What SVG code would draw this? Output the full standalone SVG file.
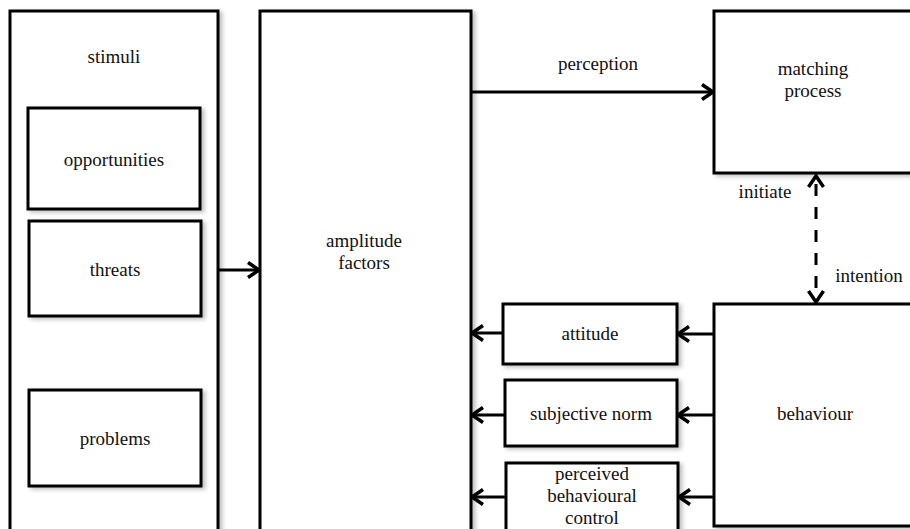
<svg xmlns="http://www.w3.org/2000/svg" width="910" height="529" viewBox="0 0 910 529">
  <style>
    .box { fill: #fff; stroke: #000; stroke-width: 3; filter: url(#sh); }
    .t { font-family: "Liberation Serif", "Times New Roman", serif; font-size: 19px; fill: #111; text-anchor: middle; }
    .c { stroke: #000; stroke-width: 3; fill: none; }
  </style>
  <defs>
    <filter id="sh" x="-10%" y="-10%" width="130%" height="130%">
      <feDropShadow dx="3" dy="2" stdDeviation="2" flood-color="#000" flood-opacity="0.25"/>
    </filter>
    <marker id="arr" markerUnits="userSpaceOnUse" viewBox="-14 -10 16 20" markerWidth="16" markerHeight="20" refX="0" refY="0" orient="auto-start-reverse">
      <path d="M-11,-7.5 L0,0 L-11,7.5" fill="none" stroke="#000" stroke-width="3.5"/>
    </marker>
  </defs>
  <rect width="910" height="529" fill="#fff"/>

  <g id="stimuli">
    <rect class="box" x="10" y="11" width="208" height="530"/>
    <text class="t" x="114" y="63">stimuli</text>
  </g>
  <g id="opportunities">
    <rect class="box" x="28" y="108" width="172" height="101"/>
    <text class="t" x="114" y="166">opportunities</text>
  </g>
  <g id="threats">
    <rect class="box" x="29" y="221" width="172" height="95"/>
    <text class="t" x="115" y="276">threats</text>
  </g>
  <g id="problems">
    <rect class="box" x="29" y="390" width="172" height="96"/>
    <text class="t" x="115" y="445">problems</text>
  </g>
  <g id="amplitude">
    <rect class="box" x="260" y="11" width="211" height="530"/>
    <text class="t" x="364" y="247">amplitude</text>
    <text class="t" x="364" y="269">factors</text>
  </g>
  <g id="matching">
    <rect class="box" x="714" y="11" width="210" height="162"/>
    <text class="t" x="813" y="75">matching</text>
    <text class="t" x="813" y="97">process</text>
  </g>
  <g id="behaviour">
    <rect class="box" x="714" y="304" width="210" height="222"/>
    <text class="t" x="815" y="420">behaviour</text>
  </g>
  <g id="attitude">
    <rect class="box" x="503" y="304" width="174" height="60"/>
    <text class="t" x="590" y="340">attitude</text>
  </g>
  <g id="subjective">
    <rect class="box" x="505" y="380" width="172" height="66"/>
    <text class="t" x="591" y="420">subjective norm</text>
  </g>
  <g id="pbc">
    <rect class="box" x="506" y="463" width="172" height="80"/>
    <text class="t" x="592" y="480">perceived</text>
    <text class="t" x="592" y="502">behavioural</text>
    <text class="t" x="592" y="524">control</text>
  </g>

  <g id="connectors">
    <line class="c" x1="218" y1="270" x2="259" y2="270" marker-end="url(#arr)"/>
    <line class="c" x1="471" y1="92" x2="713" y2="92" marker-end="url(#arr)"/>
    <text class="t" x="598" y="70">perception</text>
    <line class="c" x1="816" y1="176" x2="816" y2="302" stroke-dasharray="12 11" stroke-dashoffset="-8" marker-start="url(#arr)" marker-end="url(#arr)"/>
    <text class="t" x="765" y="198">initiate</text>
    <text class="t" x="869" y="282">intention</text>
    <line class="c" x1="714" y1="334" x2="678" y2="334" marker-end="url(#arr)"/>
    <line class="c" x1="714" y1="415" x2="678" y2="415" marker-end="url(#arr)"/>
    <line class="c" x1="714" y1="497" x2="679" y2="497" marker-end="url(#arr)"/>
    <line class="c" x1="503" y1="333" x2="472" y2="333" marker-end="url(#arr)"/>
    <line class="c" x1="505" y1="415" x2="472" y2="415" marker-end="url(#arr)"/>
    <line class="c" x1="506" y1="497" x2="472" y2="497" marker-end="url(#arr)"/>
  </g>
</svg>
